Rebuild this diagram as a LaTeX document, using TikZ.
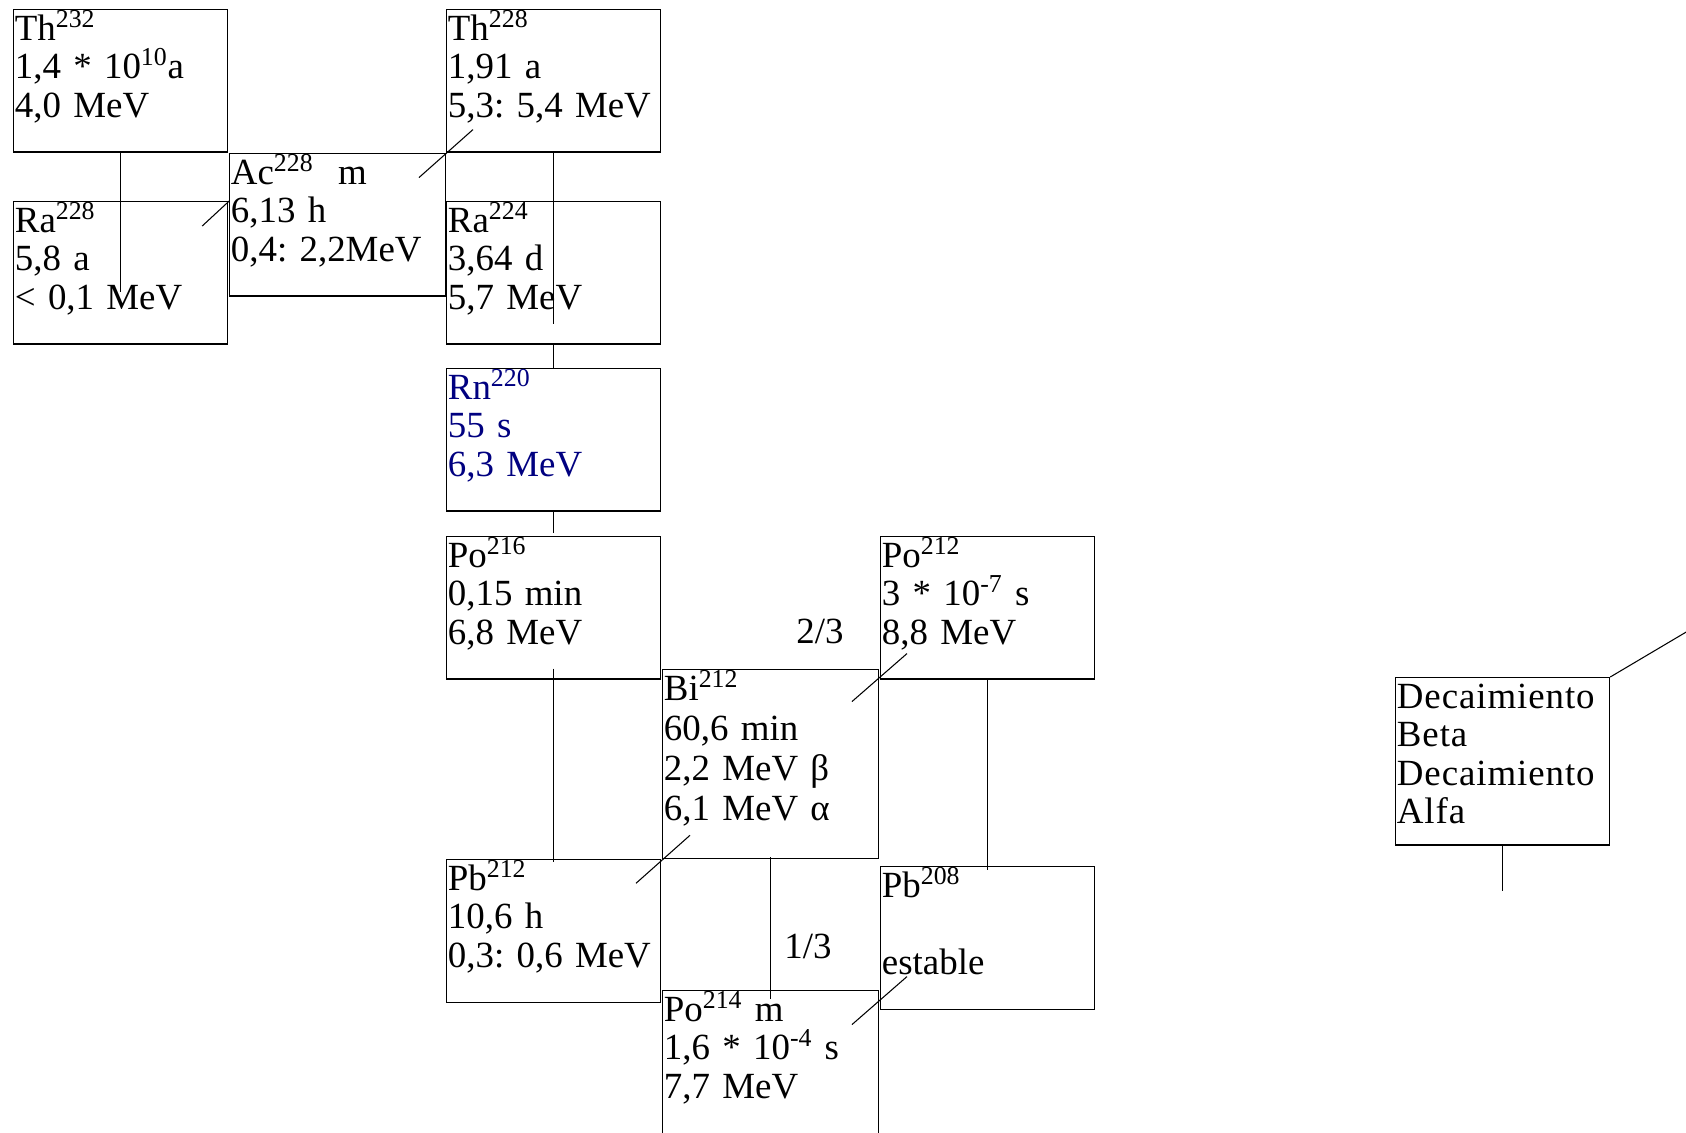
\documentclass[tikz,border=0pt]{standalone}
\usepackage{fontspec}
\setmainfont{Liberation Serif}
\newfontfamily\legendfont[LetterSpace=2.5]{Liberation Serif}
\newcommand\nucfont{\fontsize{21}{21.8}\selectfont}
\frenchspacing
\definecolor{rnblue}{RGB}{0,0,128}
\tikzset{
  nucbox/.style={draw,anchor=north west,inner xsep=0.8pt,inner ysep=0pt,align=left,
    text width=120.3pt,text height=17.6pt,text depth=63.5pt,font=\nucfont},
  widebox/.style={text width=121.4pt},
  frac/.style={anchor=base east,inner sep=0pt,font=\nucfont}
}
\begin{document}
\begin{tikzpicture}[x=0.02cm,y=-0.02cm,line width=0.6pt]
\useasboundingbox (0,0) rectangle (1686,1132);
%boxes
\node[nucbox](th232) at (13,9) {Th\textsuperscript{232}\\1,4 * 10\textsuperscript{10}a\\4,0 MeV};
\node[nucbox](th228) at (446,9) {Th\textsuperscript{228}\\1,91 a\\5,3: 5,4 MeV};
\node[nucbox,widebox](ac228) at (229,153) {Ac\textsuperscript{228}\ \ m\\6,13 h\\0,4: 2,2MeV};
\node[nucbox](ra228) at (13,201) {Ra\textsuperscript{228}\\5,8 a\\< 0,1 MeV};
\node[nucbox](ra224) at (446,201) {Ra\textsuperscript{224}\\3,64 d\\5,7 MeV};
\node[nucbox,text=rnblue](rn220) at (446,368) {Rn\textsuperscript{220}\\55 s\\6,3 MeV};
\node[nucbox](po216) at (446,536) {Po\textsuperscript{216}\\0,15 min\\6,8 MeV};
\node[nucbox](po212) at (880,536) {Po\textsuperscript{212}\\3 * 10\textsuperscript{-7} s\\8,8 MeV};
\node[nucbox,widebox,text depth=90.1pt,font=\fontsize{21}{22.8}\selectfont](bi212) at (662,669) {Bi\textsuperscript{212}\\60,6 min\\2,2 MeV β\\6,1 MeV α};
\node[nucbox](pb212) at (446,859) {Pb\textsuperscript{212}\\10,6 h\\0,3: 0,6 MeV};
\node[nucbox](pb208) at (880,866) {Pb\textsuperscript{208}\\\mbox{}\\estable};
\node[nucbox,widebox,text depth=73.1pt](po214) at (662,990) {Po\textsuperscript{214} m\\1,6 * 10\textsuperscript{-4} s\\7,7 MeV};
\node[nucbox,text depth=77.7pt,font=\nucfont\legendfont](legend) at (1395,677) {Decaimiento\\Beta\\Decaimiento\\Alfa};
%branching
\node[frac](twothirds) at (844,643) {2/3};
\node[frac](onethird) at (832,958) {1/3};
%alpha
\draw (th232.south) -- ++(0,139);
\draw (th228.south) -- ++(0,171);
\draw (ra224.south) -- (rn220.north);
\draw (rn220.south) -- ++(0,21);
\draw (po216.south) ++(0,-11) -- ++(0,193);
\draw (po212.south) -- ++(0,190);
\draw (bi212.south) ++(0,-2) -- ++(0,142);
\draw (legend.south) -- ++(0,45);
%beta
\draw (ra228.north east) ++(-26,25) -- ++(27,-25);
\draw (th228.south west) ++(-27,25) -- ++(54,-48);
\draw (po212.south west) ++(-28,22) -- ++(55,-48);
\draw (bi212.south west) ++(-26,24) -- ++(54,-48);
\draw (pb208.south west) ++(-28,15) -- ++(55,-48);
\draw (legend.north east) -- ++(76,-45);
\end{tikzpicture}
\end{document}
